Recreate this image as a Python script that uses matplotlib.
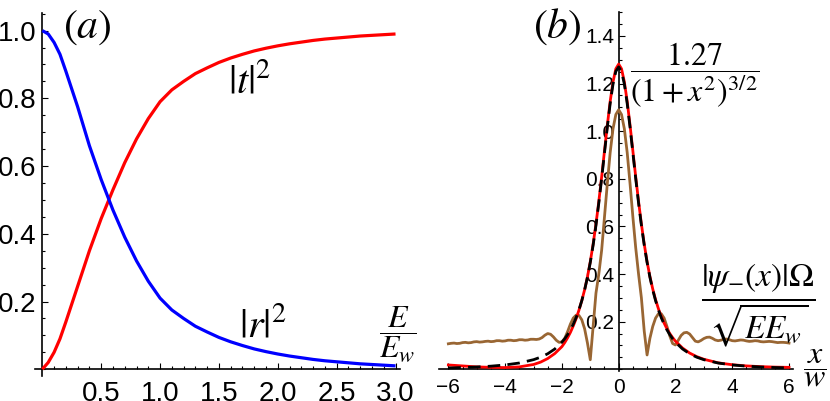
import matplotlib
matplotlib.use("Agg")
import matplotlib.pyplot as plt
from matplotlib.ticker import MultipleLocator
import numpy as np

plt.rcParams['font.family'] = 'Liberation Sans'
plt.rcParams['mathtext.fontset'] = 'stix'

# ---- panel (a): transmission / reflection vs E/E_w
E = [0.0, 0.05, 0.1, 0.15, 0.2, 0.3, 0.4, 0.5, 0.6, 0.7, 0.8, 0.9, 1.0,
     1.1, 1.2, 1.3, 1.4, 1.5, 1.6, 1.7, 1.8, 1.9, 2.0,
     2.1, 2.2, 2.3, 2.4, 2.5, 2.6, 2.7, 2.8, 2.9, 3.0]
t2 = [0.0, 0.02, 0.05, 0.09, 0.14, 0.245, 0.35, 0.445, 0.53, 0.61, 0.68, 0.74, 0.79,
      0.825, 0.85, 0.873, 0.89, 0.906, 0.919, 0.93, 0.94, 0.948, 0.955,
      0.961, 0.966, 0.971, 0.975, 0.978, 0.981, 0.984, 0.986, 0.988, 0.99]
r2 = [1.0, 0.99, 0.965, 0.93, 0.88, 0.775, 0.66, 0.56, 0.47, 0.39, 0.32, 0.26, 0.21,
      0.175, 0.15, 0.127, 0.11, 0.094, 0.081, 0.07, 0.06, 0.052, 0.045,
      0.039, 0.034, 0.029, 0.025, 0.022, 0.019, 0.016, 0.014, 0.012, 0.01]

# ---- panel (b): wavefunction profile vs x/w
xs = [-6.0, -5.5, -5.0, -4.5, -4.0, -3.5, -3.0, -2.75, -2.5, -2.25,
      -2.0, -1.9, -1.8, -1.7, -1.6, -1.5, -1.4, -1.3, -1.2, -1.1,
      -1.0, -0.9, -0.8, -0.7, -0.6, -0.5, -0.4, -0.3, -0.2, -0.1,
      0.0, 0.1, 0.2, 0.3, 0.4, 0.5, 0.6, 0.7, 0.8, 0.9,
      1.0, 1.1, 1.2, 1.3, 1.4, 1.5, 1.6, 1.7, 1.8, 1.9,
      2.0, 2.25, 2.5, 2.75, 3.0, 3.5, 4.0, 4.5, 5.0, 5.5, 6.0]
fit = [0.0056, 0.0073, 0.0096, 0.0130, 0.0181, 0.0263, 0.0402, 0.0507, 0.0651, 0.0851,
       0.1136, 0.1283, 0.1455, 0.1655, 0.1891, 0.2168, 0.2494, 0.2879, 0.3332, 0.3866,
       0.449, 0.5215, 0.6047, 0.6983, 0.8008, 0.9088, 1.0165, 1.116, 1.1974, 1.2512,
       1.27, 1.2512, 1.1974, 1.116, 1.0165, 0.9088, 0.8008, 0.6983, 0.6047, 0.5215,
       0.449, 0.3866, 0.3332, 0.2879, 0.2494, 0.2168, 0.1891, 0.1655, 0.1455, 0.1283,
       0.1136, 0.0851, 0.0651, 0.0507, 0.0402, 0.0263, 0.0181, 0.0130, 0.0096, 0.0073, 0.0056]
exact = [0.018, 0.014, 0.010, 0.008, 0.007, 0.010, 0.020, 0.030, 0.045, 0.066,
         0.095, 0.112, 0.132, 0.155, 0.182, 0.212, 0.248, 0.288, 0.334, 0.388,
         0.452, 0.526, 0.61, 0.705, 0.808, 0.917, 1.025, 1.125, 1.207, 1.262,
         1.282, 1.262, 1.207, 1.125, 1.025, 0.917, 0.808, 0.705, 0.61, 0.526,
         0.452, 0.39, 0.337, 0.292, 0.254, 0.222, 0.194, 0.170, 0.150, 0.133,
         0.118, 0.089, 0.068, 0.053, 0.042, 0.027, 0.019, 0.014, 0.011, 0.009, 0.008]

xb = np.round(np.arange(-6.0, 6.05, 0.1), 1)
brown = [0.107, 0.109, 0.110, 0.108, 0.109, 0.112, 0.113, 0.111, 0.112, 0.115,
         0.116, 0.114, 0.115, 0.117, 0.118, 0.116, 0.117, 0.120, 0.120, 0.118,
         0.119, 0.122, 0.122, 0.120, 0.121, 0.124, 0.124, 0.122, 0.123, 0.126,
         0.126, 0.125, 0.127, 0.133, 0.143, 0.150, 0.147, 0.136, 0.122, 0.113,
         0.115, 0.130, 0.158, 0.190, 0.215, 0.227, 0.226, 0.208, 0.170, 0.110,
         0.040, 0.180, 0.32, 0.40, 0.50, 0.64, 0.78, 0.91, 1.01, 1.07,
         1.09,
         1.07, 1.01, 0.91, 0.78, 0.64, 0.51, 0.40, 0.30, 0.16, 0.06,
         0.13, 0.18, 0.215, 0.233, 0.233, 0.215, 0.18, 0.14, 0.108, 0.102,
         0.122, 0.142, 0.153, 0.155, 0.148, 0.133, 0.118, 0.115, 0.121, 0.129,
         0.134, 0.135, 0.130, 0.123, 0.120, 0.122, 0.126, 0.127, 0.124, 0.120,
         0.119, 0.121, 0.123, 0.122, 0.119, 0.117, 0.118, 0.120, 0.119, 0.116,
         0.115, 0.116, 0.117, 0.116, 0.114, 0.112, 0.113, 0.113, 0.112, 0.110]


def math_axes(ax):
    # Mathematica-like axes crossing at the origin
    for s in ['top', 'right']:
        ax.spines[s].set_visible(False)
    ax.spines['left'].set_position(('data', 0))
    ax.spines['bottom'].set_position(('data', 0))
    for s in ['left', 'bottom']:
        ax.spines[s].set_linewidth(1.2)
    ax.tick_params(which='both', direction='in', width=0.8, colors='black')
    ax.tick_params(which='major', length=4.5)
    ax.tick_params(which='minor', length=2.5)


fig = plt.figure(figsize=(8.3, 4.01), dpi=100)

# left panel
ax1 = fig.add_axes([0.0422, 0.0623, 0.44, 0.9053])
ax1.plot(E, t2, color='#ff0000', lw=2.3, zorder=3, solid_capstyle='butt')
ax1.plot(E, r2, color='#0000ff', lw=2.3, zorder=3, solid_capstyle='butt')
ax1.set_xlim(-0.062, 3.04)
ax1.set_ylim(-0.02, 1.052)
math_axes(ax1)
ax1.set_xticks([0.5, 1.0, 1.5, 2.0, 2.5, 3.0])
ax1.set_yticks([0.2, 0.4, 0.6, 0.8, 1.0])
ax1.xaxis.set_minor_locator(MultipleLocator(0.1))
ax1.yaxis.set_minor_locator(MultipleLocator(0.05))
ax1.tick_params(axis='both', labelsize=20)
ax1.tick_params(axis='x', pad=8.5)
ax1.tick_params(axis='y', pad=4)
ax1.text(0.38, 1.01, r'$(a)$', fontsize=30, ha='center', va='center')
ax1.text(1.76, 0.85, r'$|t|^2$', fontsize=29, ha='center', va='center')
ax1.text(1.87, 0.13, r'$|r|^2$', fontsize=29, ha='center', va='center')
ax1.text(3.02, 0.104, r'$\dfrac{E}{E_w}$', fontsize=23, ha='center', va='center')

# right panel
ax2 = fig.add_axes([0.5289, 0.0756, 0.4265, 0.8953])
ax2.plot(xb, brown, color='#996633', lw=2.0, zorder=3)
ax2.plot(xs, exact, color='#ff0000', lw=2.0, zorder=3)
ax2.plot(xs, fit, color='black', lw=2.0, ls=(0, (4.5, 2.6)), zorder=4)
ax2.set_xlim(-6.33, 6.14)
ax2.set_ylim(-0.006, 1.502)
math_axes(ax2)
ax2.set_xticks([-6, -4, -2, 0, 2, 4, 6])
ax2.set_xticklabels(['\u22126', '\u22124', '\u22122', '0', '2', '4', '6'])
ax2.set_yticks([0.2, 0.4, 0.6, 0.8, 1.0, 1.2, 1.4])
ax2.xaxis.set_minor_locator(MultipleLocator(0.5))
ax2.yaxis.set_minor_locator(MultipleLocator(0.05))
ax2.tick_params(axis='both', labelsize=15)
ax2.tick_params(axis='x', pad=6)
ax2.tick_params(axis='y', pad=3)
ax2.text(-2.17, 1.44, r'$(b)$', fontsize=30, ha='center', va='center')
ax2.text(2.69, 1.235, r'$\dfrac{1.27}{(1+x^2)^{3/2}}$', fontsize=23, ha='center', va='center')
ax2.text(4.91, 0.27, r'$\dfrac{|\psi_{-}(x)|\Omega}{\sqrt{E E_w}}$', fontsize=24, ha='center', va='center')
ax2.text(6.92, 0.005, r'$\dfrac{x}{w}$', fontsize=23, ha='center', va='center')

fig.savefig('out.png', dpi=100)
